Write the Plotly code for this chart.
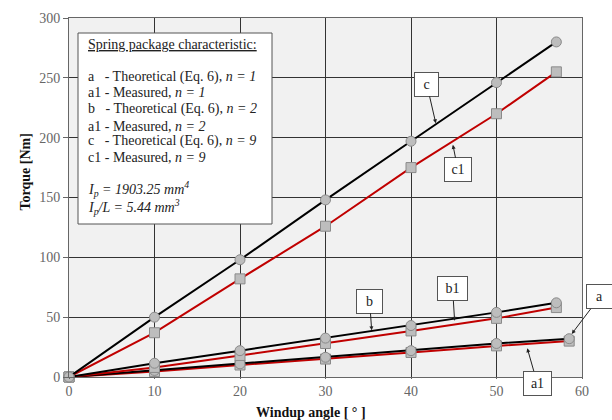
import plotly.graph_objects as go

angles = [0, 10, 20, 30, 40, 50, 57]
angles_a = [0, 10, 20, 30, 40, 50, 58.5]
c_theor = [0, 50, 98, 148, 197, 246, 280]
c_meas = [0, 37, 82, 126, 175, 220, 255]
b_theor = [0, 11.5, 22, 32.5, 43, 54, 62]
b_meas = [0, 8, 18, 28, 38.5, 49, 58]
a_theor = [0, 5.5, 11, 16.5, 22, 28, 32]
a_meas = [0, 4.5, 10, 15, 20.5, 26, 30]

x_ticks = [0, 10, 20, 30, 40, 50, 60]
y_ticks = [0, 50, 100, 150, 200, 250, 300]

legend_lines = [
    "<u>Spring package characteristic:</u>",
    "a   - Theoretical (Eq. 6), <i>n = 1</i>",
    "a1 - Measured, <i>n = 1</i>",
    "b   - Theoretical (Eq. 6), <i>n = 2</i>",
    "a1 - Measured, <i>n = 2</i>",
    "c   - Theoretical (Eq. 6), <i>n = 9</i>",
    "c1 - Measured, <i>n = 9</i>",
    "<i>I<sub>p</sub> = 1903.25 mm<sup>4</sup></i>",
    "<i>I<sub>p</sub>/L = 5.44 mm<sup>3</sup></i>",
]

FONT = "Liberation Serif"
L, R, T, B = 69, 30, 18, 43
W, H = 612, 420
PW, PH = W - L - R, H - T - B

def px(xp):
    return (xp - L) / PW

def py(yp):
    return (H - B - yp) / PH

fig = go.Figure()

def add(x, y, color, symbol):
    fig.add_trace(go.Scatter(
        x=x, y=y, mode="lines+markers", cliponaxis=False,
        line=dict(color=color, width=2),
        marker=dict(symbol=symbol, size=10, color="#bdbdbd",
                    line=dict(color="#8a8a8a", width=1)),
        showlegend=False))

add(angles_a, a_meas, "#c00000", "square")
add(angles_a, a_theor, "black", "circle")
add(angles, b_meas, "#c00000", "square")
add(angles, b_theor, "black", "circle")
add(angles, c_meas, "#c00000", "square")
add(angles, c_theor, "black", "circle")

annotations = []
line_y = [45, 77, 93, 109, 126, 141, 157, 189, 207]
for txt, yy in zip(legend_lines, line_y):
    annotations.append(dict(
        x=px(86), y=py(yy), xref="paper", yref="paper", xanchor="left",
        yanchor="middle", text=txt, showarrow=False, align="left",
        font=dict(family=FONT, size=14, color="#222")))

shapes = [dict(type="rect", xref="paper", yref="paper",
               x0=px(78), x1=px(272), y0=py(224), y1=py(33),
               fillcolor="white", line=dict(color="#555", width=1), layer="above")]

def label(text, x, y, ax, ay, w):
    annotations.append(dict(
        x=x, y=y, xref="x", yref="y", text=text, showarrow=True,
        ax=ax, ay=ay, arrowhead=2, arrowsize=0.8, arrowwidth=1, arrowcolor="#222",
        font=dict(family=FONT, size=14, color="#222"), width=w, height=19,
        bgcolor="white", bordercolor="#555", borderwidth=1, borderpad=2))

label("c", 42.9, 212, -9, -39, 19)
label("c1", 44.9, 194, 5, 25, 22)
label("b", 35.4, 39, -2, -29, 21)
label("b1", 45.1, 47, -2, -32, 25)
label("a", 58.8, 36, 28, -37, 21)
label("a1", 53.6, 24, 10, 35, 23)

annotations.append(dict(x=px(311), y=py(412), xref="paper", yref="paper",
                        yanchor="middle",
                        text="<b>Windup angle [ ° ]</b>", showarrow=False,
                        font=dict(family=FONT, size=14, color="#111")))
annotations.append(dict(x=px(15), y=py(172), xref="paper", yref="paper",
                        text="<b>Torque [Nm]</b>", showarrow=False, textangle=-90,
                        font=dict(family=FONT, size=14, color="#111")))

fig.update_layout(
    width=W, height=H,
    margin=dict(l=L, r=R, t=T, b=B),
    paper_bgcolor="white", plot_bgcolor="#f1f1f1",
    font=dict(family=FONT, size=14, color="#666"),
    annotations=annotations, shapes=shapes,
    xaxis=dict(range=[0, 60], tickvals=x_ticks, showgrid=True, gridcolor="#333",
               gridwidth=1, zeroline=False, showline=True, linecolor="#666",
               mirror=True, ticks="outside", ticklen=1, tickcolor="#666"),
    yaxis=dict(range=[0, 300], tickvals=y_ticks, showgrid=True, gridcolor="#333",
               gridwidth=1, zeroline=False, showline=True, linecolor="#666",
               mirror=True, ticks="outside", ticklen=5, tickcolor="#666"),
)

fig.write_html("out.html")
